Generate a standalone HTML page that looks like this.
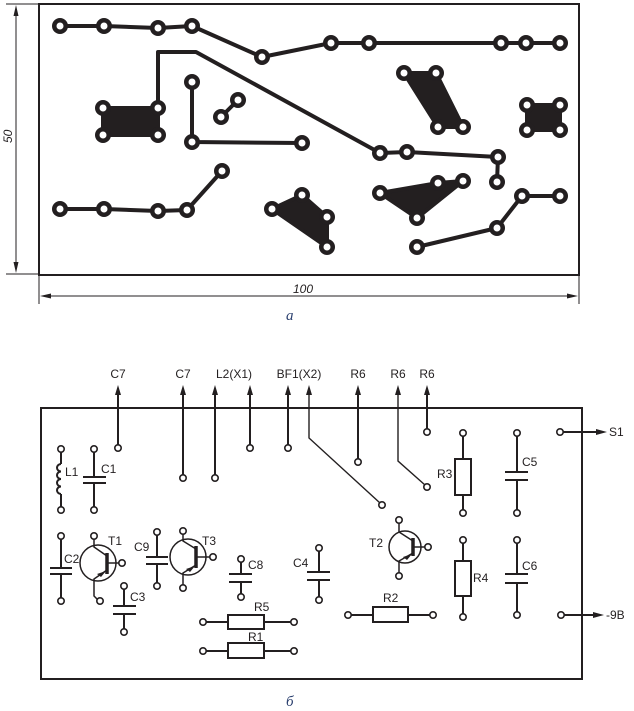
<!DOCTYPE html>
<html><head><meta charset="utf-8"><style>
html,body{margin:0;padding:0;background:#fff;}
svg{display:block;}
text{font-family:"Liberation Sans",sans-serif;fill:#231f20;}
</style></head><body>
<svg width="634" height="711" viewBox="0 0 634 711" xmlns="http://www.w3.org/2000/svg">
<!-- ============ PCB (a) ============ -->
<rect x="39" y="4" width="540" height="271" fill="none" stroke="#231f20" stroke-width="2"/>
<!-- dimension lines -->
<g stroke="#231f20" stroke-width="1" fill="none">
<line x1="6" y1="4" x2="39" y2="4"/>
<line x1="6" y1="274" x2="39" y2="274"/>
<line x1="16" y1="10" x2="16" y2="268"/>
<line x1="39" y1="275" x2="39" y2="304"/>
<line x1="579" y1="275" x2="579" y2="304"/>
<line x1="45" y1="296" x2="573" y2="296"/>
</g>
<g fill="#231f20">
<polygon points="16,5 13.5,16 18.5,16"/>
<polygon points="16,273 13.5,262 18.5,262"/>
<polygon points="40,296 51,293.5 51,298.5"/>
<polygon points="578,296 567,293.5 567,298.5"/>
</g>
<text x="293" y="293" font-size="12" font-style="italic">100</text>
<text x="0" y="0" font-size="12" font-style="italic" transform="translate(12,143) rotate(-90)">50</text>
<text x="286" y="320" font-size="15" font-style="italic" style="font-family:'Liberation Serif',serif;fill:#2a3f6e">a</text>

<!-- traces -->
<g stroke="#231f20" stroke-width="4" fill="none" stroke-linejoin="round" stroke-linecap="round">
<polyline points="60,26 104,26 158,28 192,26 262,57 331,43 369,43 501,43 526,43 560,43"/>
<polyline points="158,108 158,52 196,52 380,153 407,152 498,157 497,182"/>
<polyline points="192,82 192,142 302,143"/>
<polyline points="221,117 238,100"/>
<polyline points="60,209 104,209 158,211 187,210 222,171"/>
<polyline points="417,247 497,228 522,196 560,196"/>
</g>
<!-- filled areas -->
<g fill="#231f20" stroke="#231f20" stroke-width="4" stroke-linejoin="round">
<rect x="103" y="108" width="55" height="27"/>
<rect x="527" y="105" width="33" height="25"/>
<polygon points="404,73 436,73 463,127 438,127"/>
<polygon points="272,209 302,195 327,217 327,247"/>
<polygon points="380,193 438,183 463,181 417,218"/>
</g>
<!-- pads -->
<g id="pads" fill="#231f20">
<circle cx="60" cy="26" r="8"/><circle cx="104" cy="26" r="8"/><circle cx="158" cy="28" r="8"/><circle cx="192" cy="26" r="8"/><circle cx="262" cy="57" r="8"/><circle cx="331" cy="43" r="8"/><circle cx="369" cy="43" r="8"/><circle cx="501" cy="43" r="8"/><circle cx="526" cy="43" r="8"/><circle cx="560" cy="43" r="8"/>
<circle cx="158" cy="108" r="8"/><circle cx="103" cy="108" r="8"/><circle cx="103" cy="135" r="8"/><circle cx="158" cy="135" r="8"/>
<circle cx="192" cy="82" r="8"/><circle cx="192" cy="142" r="8"/><circle cx="302" cy="143" r="8"/>
<circle cx="221" cy="117" r="8"/><circle cx="238" cy="100" r="8"/>
<circle cx="404" cy="73" r="8"/><circle cx="436" cy="73" r="8"/><circle cx="463" cy="127" r="8"/><circle cx="438" cy="127" r="8"/>
<circle cx="527" cy="105" r="8"/><circle cx="560" cy="105" r="8"/><circle cx="527" cy="130" r="8"/><circle cx="560" cy="130" r="8"/>
<circle cx="380" cy="153" r="8"/><circle cx="407" cy="152" r="8"/><circle cx="498" cy="157" r="8"/><circle cx="497" cy="182" r="8"/>
<circle cx="60" cy="209" r="8"/><circle cx="104" cy="209" r="8"/><circle cx="158" cy="211" r="8"/><circle cx="187" cy="210" r="8"/><circle cx="222" cy="171" r="8"/>
<circle cx="272" cy="209" r="8"/><circle cx="302" cy="195" r="8"/><circle cx="327" cy="217" r="8"/><circle cx="327" cy="247" r="8"/>
<circle cx="380" cy="193" r="8"/><circle cx="438" cy="183" r="8"/><circle cx="463" cy="181" r="8"/><circle cx="417" cy="218" r="8"/>
<circle cx="417" cy="247" r="8"/><circle cx="497" cy="228" r="8"/><circle cx="522" cy="196" r="8"/><circle cx="560" cy="196" r="8"/>
</g>
<g fill="#fff">
<circle cx="60" cy="26" r="3.5"/><circle cx="104" cy="26" r="3.5"/><circle cx="158" cy="28" r="3.5"/><circle cx="192" cy="26" r="3.5"/><circle cx="262" cy="57" r="3.5"/><circle cx="331" cy="43" r="3.5"/><circle cx="369" cy="43" r="3.5"/><circle cx="501" cy="43" r="3.5"/><circle cx="526" cy="43" r="3.5"/><circle cx="560" cy="43" r="3.5"/>
<circle cx="158" cy="108" r="3.5"/><circle cx="103" cy="108" r="3.5"/><circle cx="103" cy="135" r="3.5"/><circle cx="158" cy="135" r="3.5"/>
<circle cx="192" cy="82" r="3.5"/><circle cx="192" cy="142" r="3.5"/><circle cx="302" cy="143" r="3.5"/>
<circle cx="221" cy="117" r="3.5"/><circle cx="238" cy="100" r="3.5"/>
<circle cx="404" cy="73" r="3.5"/><circle cx="436" cy="73" r="3.5"/><circle cx="463" cy="127" r="3.5"/><circle cx="438" cy="127" r="3.5"/>
<circle cx="527" cy="105" r="3.5"/><circle cx="560" cy="105" r="3.5"/><circle cx="527" cy="130" r="3.5"/><circle cx="560" cy="130" r="3.5"/>
<circle cx="380" cy="153" r="3.5"/><circle cx="407" cy="152" r="3.5"/><circle cx="498" cy="157" r="3.5"/><circle cx="497" cy="182" r="3.5"/>
<circle cx="60" cy="209" r="3.5"/><circle cx="104" cy="209" r="3.5"/><circle cx="158" cy="211" r="3.5"/><circle cx="187" cy="210" r="3.5"/><circle cx="222" cy="171" r="3.5"/>
<circle cx="272" cy="209" r="3.5"/><circle cx="302" cy="195" r="3.5"/><circle cx="327" cy="217" r="3.5"/><circle cx="327" cy="247" r="3.5"/>
<circle cx="380" cy="193" r="3.5"/><circle cx="438" cy="183" r="3.5"/><circle cx="463" cy="181" r="3.5"/><circle cx="417" cy="218" r="3.5"/>
<circle cx="417" cy="247" r="3.5"/><circle cx="497" cy="228" r="3.5"/><circle cx="522" cy="196" r="3.5"/><circle cx="560" cy="196" r="3.5"/>
</g>

<!-- ============ Schematic (б) ============ -->
<rect x="41" y="408" width="541" height="271" fill="none" stroke="#231f20" stroke-width="2"/>

<!-- top labels -->
<g font-size="12" text-anchor="middle">
<text x="118" y="378">C7</text>
<text x="183" y="378">C7</text>
<text x="234" y="378">L2(X1)</text>
<text x="299" y="378">BF1(X2)</text>
<text x="358" y="378">R6</text>
<text x="398" y="378">R6</text>
<text x="427" y="378">R6</text>
</g>
<!-- leads -->
<g stroke="#231f20" stroke-width="2" fill="none">
<line x1="118" y1="392" x2="118" y2="445"/>
<line x1="183" y1="392" x2="183" y2="475"/>
<line x1="215" y1="392" x2="215" y2="475"/>
<line x1="250" y1="392" x2="250" y2="445"/>
<line x1="288" y1="392" x2="288" y2="445"/>
<line x1="358" y1="392" x2="358" y2="459"/>
<line x1="427" y1="392" x2="427" y2="429"/>
<line x1="563" y1="432" x2="600" y2="432"/>
<line x1="564" y1="615" x2="596" y2="615"/>
</g>
<g stroke="#231f20" stroke-width="1.4" fill="none">
<polyline points="309,392 309,438 380,503"/>
<polyline points="398,392 398,461 425,485"/>
</g>
<g fill="#231f20">
<polygon points="118,385 115,395 121,395"/>
<polygon points="183,385 180,395 186,395"/>
<polygon points="215,385 212,395 218,395"/>
<polygon points="250,385 247,395 253,395"/>
<polygon points="288,385 285,395 291,395"/>
<polygon points="309,385 306,395 312,395"/>
<polygon points="358,385 355,395 361,395"/>
<polygon points="398,385 395,395 401,395"/>
<polygon points="427,385 424,395 430,395"/>
<polygon points="607,432 596,429 596,435"/>
<polygon points="604,615 593,612 593,618"/>
</g>
<g font-size="12">
<text x="609" y="436">S1</text>
<text x="606" y="619">-9В</text>
</g>

<!-- component wires -->
<g stroke="#231f20" stroke-width="2" fill="none">
<!-- L1 -->
<line x1="61" y1="452" x2="61" y2="464"/>
<path d="M61,464 a4,3.75 0 0 0 0,7.5 a4,3.75 0 0 0 0,7.5 a4,3.75 0 0 0 0,7.5 a4,3.75 0 0 0 0,7.5"/>
<line x1="61" y1="494" x2="61" y2="507"/>
<!-- C1 -->
<line x1="94" y1="452" x2="94" y2="477"/><line x1="94" y1="483" x2="94" y2="507"/>
<line x1="83" y1="477" x2="106" y2="477"/><line x1="83" y1="483" x2="106" y2="483"/>
<!-- C2 -->
<line x1="61" y1="539" x2="61" y2="568"/><line x1="61" y1="574" x2="61" y2="598"/>
<line x1="50" y1="568" x2="72" y2="568"/><line x1="50" y1="574" x2="72" y2="574"/>
<!-- C3 -->
<line x1="124" y1="589" x2="124" y2="606"/><line x1="124" y1="614" x2="124" y2="629"/>
<line x1="113" y1="606" x2="136" y2="606"/><line x1="113" y1="614" x2="136" y2="614"/>
<!-- C9 -->
<line x1="157" y1="535" x2="157" y2="557"/><line x1="157" y1="564" x2="157" y2="583"/>
<line x1="146" y1="557" x2="168" y2="557"/><line x1="146" y1="564" x2="168" y2="564"/>
<!-- C8 -->
<line x1="241" y1="562" x2="241" y2="574"/><line x1="241" y1="582" x2="241" y2="594"/>
<line x1="229" y1="574" x2="252" y2="574"/><line x1="229" y1="582" x2="252" y2="582"/>
<!-- C4 -->
<line x1="319" y1="551" x2="319" y2="572"/><line x1="319" y1="580" x2="319" y2="597"/>
<line x1="307" y1="572" x2="330" y2="572"/><line x1="307" y1="580" x2="330" y2="580"/>
<!-- C5 -->
<line x1="517" y1="436" x2="517" y2="472"/><line x1="517" y1="480" x2="517" y2="510"/>
<line x1="505" y1="472" x2="528" y2="472"/><line x1="505" y1="480" x2="528" y2="480"/>
<!-- C6 -->
<line x1="517" y1="543" x2="517" y2="574"/><line x1="517" y1="583" x2="517" y2="612"/>
<line x1="505" y1="574" x2="528" y2="574"/><line x1="505" y1="583" x2="528" y2="583"/>
<!-- R3 -->
<line x1="463" y1="436" x2="463" y2="459"/><line x1="463" y1="495" x2="463" y2="510"/>
<rect x="455" y="459" width="16" height="36"/>
<!-- R4 -->
<line x1="463" y1="543" x2="463" y2="561"/><line x1="463" y1="596" x2="463" y2="614"/>
<rect x="455" y="561" width="16" height="35"/>
<!-- R5 -->
<line x1="206" y1="622" x2="228" y2="622"/><line x1="264" y1="622" x2="291" y2="622"/>
<rect x="228" y="615" width="36" height="14"/>
<!-- R1 -->
<line x1="206" y1="651" x2="228" y2="651"/><line x1="264" y1="651" x2="291" y2="651"/>
<rect x="228" y="643" width="36" height="15"/>
<!-- R2 -->
<line x1="351" y1="615" x2="373" y2="615"/><line x1="408" y1="615" x2="430" y2="615"/>
<rect x="373" y="607" width="35" height="15"/>
</g>

<!-- transistors -->
<g stroke="#231f20" fill="none">
<!-- T1 -->
<circle cx="98" cy="563" r="18" stroke-width="1.5"/>
<line x1="107" y1="553" x2="107" y2="574" stroke-width="3.5"/>
<polyline points="94,539 94,547 107,556" stroke-width="1.5"/>
<polyline points="107,570 94,579 94,596 97,599" stroke-width="1.5"/>
<line x1="107" y1="563" x2="119" y2="563" stroke-width="1.5"/>
<!-- T3 -->
<circle cx="188" cy="557" r="18" stroke-width="1.5"/>
<line x1="196" y1="546" x2="196" y2="568" stroke-width="3.5"/>
<polyline points="183,534 183,541 196,549" stroke-width="1.5"/>
<polyline points="196,565 183,573 183,585" stroke-width="1.5"/>
<line x1="196" y1="557" x2="210" y2="557" stroke-width="1.5"/>
<!-- T2 -->
<circle cx="405" cy="547" r="16" stroke-width="1.5"/>
<line x1="413" y1="538" x2="413" y2="556" stroke-width="3.5"/>
<polyline points="399,523 399,532 413,541" stroke-width="1.5"/>
<polyline points="413,553 399,561 399,573" stroke-width="1.5"/>
<line x1="413" y1="547" x2="425" y2="547" stroke-width="1.5"/>
</g>
<g fill="#231f20">
<polygon points="106,571 97,574 101,577"/>
<polygon points="195,566 186,569 190,572"/>
<polygon points="412,554 403,557 407,560"/>
</g>

<!-- schematic pads -->
<g fill="#fff" stroke="#231f20" stroke-width="1.6">
<circle cx="118" cy="448" r="3.2"/><circle cx="183" cy="478" r="3.2"/><circle cx="215" cy="478" r="3.2"/><circle cx="250" cy="448" r="3.2"/><circle cx="288" cy="448" r="3.2"/>
<circle cx="382" cy="505" r="3.2"/><circle cx="358" cy="462" r="3.2"/><circle cx="427" cy="487" r="3.2"/><circle cx="427" cy="432" r="3.2"/>
<circle cx="560" cy="432" r="3.2"/><circle cx="561" cy="615" r="3.2"/>
<circle cx="61" cy="449" r="3.2"/><circle cx="61" cy="510" r="3.2"/><circle cx="94" cy="449" r="3.2"/><circle cx="94" cy="510" r="3.2"/>
<circle cx="61" cy="536" r="3.2"/><circle cx="61" cy="601" r="3.2"/>
<circle cx="94" cy="536" r="3.2"/><circle cx="100" cy="601" r="3.2"/><circle cx="122" cy="563" r="3.2"/>
<circle cx="124" cy="586" r="3.2"/><circle cx="124" cy="632" r="3.2"/>
<circle cx="157" cy="532" r="3.2"/><circle cx="157" cy="586" r="3.2"/>
<circle cx="183" cy="531" r="3.2"/><circle cx="183" cy="588" r="3.2"/><circle cx="213" cy="557" r="3.2"/>
<circle cx="241" cy="559" r="3.2"/><circle cx="241" cy="597" r="3.2"/>
<circle cx="319" cy="548" r="3.2"/><circle cx="319" cy="600" r="3.2"/>
<circle cx="203" cy="622" r="3.2"/><circle cx="294" cy="622" r="3.2"/><circle cx="203" cy="651" r="3.2"/><circle cx="294" cy="651" r="3.2"/>
<circle cx="348" cy="615" r="3.2"/><circle cx="433" cy="615" r="3.2"/>
<circle cx="399" cy="520" r="3.2"/><circle cx="399" cy="576" r="3.2"/><circle cx="428" cy="547" r="3.2"/>
<circle cx="463" cy="433" r="3.2"/><circle cx="463" cy="513" r="3.2"/><circle cx="463" cy="540" r="3.2"/><circle cx="463" cy="617" r="3.2"/>
<circle cx="517" cy="433" r="3.2"/><circle cx="517" cy="513" r="3.2"/><circle cx="517" cy="540" r="3.2"/><circle cx="517" cy="615" r="3.2"/>
</g>

<!-- component labels -->
<g font-size="12">
<text x="65" y="476">L1</text>
<text x="101" y="473">C1</text>
<text x="64" y="563">C2</text>
<text x="108" y="545">T1</text>
<text x="130" y="601">C3</text>
<text x="134" y="551">C9</text>
<text x="202" y="545">T3</text>
<text x="248" y="569">C8</text>
<text x="293" y="567">C4</text>
<text x="254" y="611">R5</text>
<text x="248" y="641">R1</text>
<text x="383" y="602">R2</text>
<text x="369" y="547">T2</text>
<text x="437" y="478">R3</text>
<text x="473" y="582">R4</text>
<text x="522" y="466">C5</text>
<text x="522" y="570">C6</text>
</g>
<text x="286" y="706" font-size="15" font-style="italic" style="font-family:'Liberation Serif',serif;fill:#2a3f6e">б</text>
</svg>
</body></html>
